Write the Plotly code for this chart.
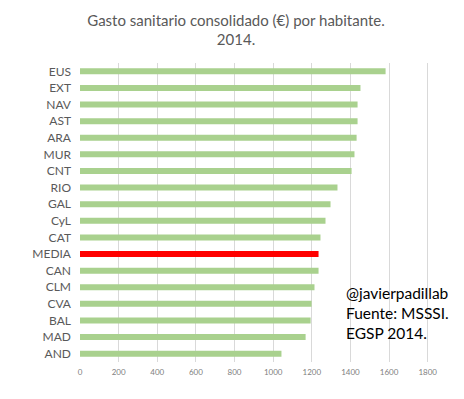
import plotly.graph_objects as go

regions = ["EUS", "EXT", "NAV", "AST", "ARA", "MUR", "CNT", "RIO", "GAL", "CyL",
           "CAT", "MEDIA", "CAN", "CLM", "CVA", "BAL", "MAD", "AND"]
gasto = [1582, 1452, 1437, 1437, 1432, 1421, 1406, 1333, 1297, 1271,
         1245, 1235, 1235, 1214, 1199, 1194, 1168, 1043]
x_ticks = [0, 200, 400, 600, 800, 1000, 1200, 1400, 1600, 1800]

colors = ["#ff0000" if r == "MEDIA" else "#a9d18e" for r in regions]

fig = go.Figure(go.Bar(
    y=regions, x=gasto, orientation="h",
    marker=dict(color=colors, line=dict(width=0)),
    width=0.36,
))

fig.update_layout(
    width=456, height=391,
    paper_bgcolor="white", plot_bgcolor="white",
    margin=dict(l=72, r=17, t=55, b=37),
    showlegend=False,
    font=dict(family="Lato, Open Sans, sans-serif", color="#595959"),
    title=dict(text="Gasto sanitario consolidado (€) por habitante.<br>2014.",
               x=0.5, xanchor="center", y=0.954, yanchor="top",
               font=dict(size=15, color="#595959")),
    xaxis=dict(range=[0, 1900], tickvals=x_ticks, showgrid=True,
               gridcolor="#d9d9d9", gridwidth=1, zeroline=False,
               showline=False, tickfont=dict(size=8, color="#808080"),
               ticks="", ticklabelstandoff=4, automargin=False),
    yaxis=dict(categoryorder="array", categoryarray=regions, autorange="reversed",
               showgrid=False, tickfont=dict(size=12, color="#595959"),
               ticks="", ticklabelstandoff=8, automargin=False),
    annotations=[dict(text="@javierpadillab<br>Fuente: MSSSI.<br>EGSP 2014.",
                      xref="paper", yref="paper", x=0.718, y=0.268,
                      xanchor="left", yanchor="top", align="left", showarrow=False,
                      font=dict(size=15.5, color="#000000", family="Lato, sans-serif"))],
)

fig.write_html("out.html")
